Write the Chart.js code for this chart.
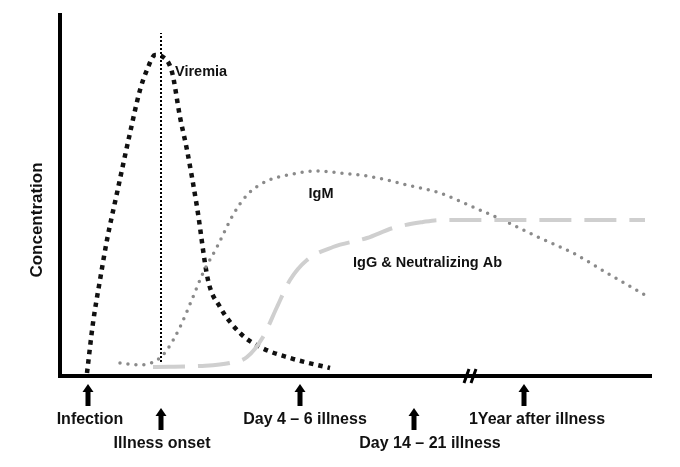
<!DOCTYPE html>
<html>
<head>
<meta charset="utf-8">
<script src="https://cdn.jsdelivr.net/npm/chart.js@4/dist/chart.umd.min.js"></script>
<style>
  html, body { margin: 0; padding: 0; background: #fff; }
  #wrap { width: 680px; height: 467px; position: relative; }
</style>
</head>
<body>
<div id="wrap"><canvas id="chart"></canvas></div>
<script>
// time axis runs 0..592 (arbitrary units), concentration 0..363
const viremiaX = [27, 33, 40, 47, 57, 70, 80, 87, 95, 103, 112, 120, 127, 137, 148, 160, 180, 200, 230, 270];
const viremiaY = [3, 53, 96, 136, 183, 243, 286, 306, 321, 319, 304, 259, 226, 169, 96, 69, 43, 29, 18, 8];

const igmX = [60, 80, 97, 107, 120, 133, 143, 157, 173, 187, 207, 233, 255, 280, 313, 347, 380, 413, 447, 480, 513, 547, 590];
const igmY = [13, 11, 16, 26, 49, 79, 103, 129, 161, 181, 195, 202, 205, 203, 199, 191, 183, 169, 154, 138, 123, 103, 78];

const iggX = [93, 140, 170, 187, 203, 217, 230, 247, 273, 307, 333, 363, 380, 585];
const iggY = [9, 10, 13, 19, 39, 69, 96, 116, 129, 138, 148, 154, 156, 156];

const onsetX = [101, 101];
const onsetY = [14, 343];

const eventNames = ['Infection', 'Illness onset', 'Day 4 \u2013 6 illness', 'Day 14 \u2013 21 illness', '1Year after illness'];
const eventX = [28, 101, 240, 354, 464];
const eventLabelX = [30, 102, 245, 370, 477];
const eventRow = [0, 1, 0, 1, 0];

const curveNames = ['Viremia', 'IgM', 'IgG & Neutralizing Ab'];
const curveLabelX = [115, 261, 293];
const curveLabelY = [304, 182, 113];
const curveAlign = ['left', 'center', 'left'];

const breakX = 410;

const toPts = (xs, ys) => xs.map((x, i) => ({x: x, y: ys[i]}));

const decor = {
    id: 'decor',
    afterDraw(chart) {
        const c = chart.ctx;
        const xs = chart.scales.x, ys = chart.scales.y;
        const a = chart.chartArea;
        c.save();
        // axes
        c.strokeStyle = '#000';
        c.lineWidth = 4;
        c.beginPath();
        c.moveTo(a.left, a.top);
        c.lineTo(a.left, a.bottom + 2);
        c.moveTo(a.left - 2, a.bottom);
        c.lineTo(a.right, a.bottom);
        c.stroke();

        // axis break
        const bx = xs.getPixelForValue(breakX);
        c.lineWidth = 3;
        c.beginPath();
        c.moveTo(bx - 6, a.bottom + 7);
        c.lineTo(bx - 1, a.bottom - 7);
        c.moveTo(bx + 1, a.bottom + 7);
        c.lineTo(bx + 6, a.bottom - 7);
        c.stroke();

        // y title
        c.fillStyle = '#111';
        c.font = 'bold 17px "Liberation Sans", Arial, sans-serif';
        c.textAlign = 'center';
        c.textBaseline = 'middle';
        c.translate(37, 220);
        c.rotate(-Math.PI / 2);
        c.fillText('Concentration', 0, 0);
        c.setTransform(1, 0, 0, 1, 0, 0);

        // event arrows + labels
        eventNames.forEach((name, i) => {
            const px = xs.getPixelForValue(eventX[i]);
            const top = a.bottom + 8 + eventRow[i] * 24;
            c.fillStyle = '#000';
            c.beginPath();
            c.moveTo(px, top);
            c.lineTo(px + 5.5, top + 8);
            c.lineTo(px + 2.5, top + 8);
            c.lineTo(px + 2.5, top + 22);
            c.lineTo(px - 2.5, top + 22);
            c.lineTo(px - 2.5, top + 8);
            c.lineTo(px - 5.5, top + 8);
            c.closePath();
            c.fill();
            c.fillStyle = '#111';
            c.font = 'bold 16px "Liberation Sans", Arial, sans-serif';
            c.textAlign = 'center';
            c.textBaseline = 'middle';
            c.fillText(name, xs.getPixelForValue(eventLabelX[i]), a.bottom + 44 + eventRow[i] * 24);
        });

        // curve labels
        c.font = 'bold 14.5px "Liberation Sans", Arial, sans-serif';
        c.textBaseline = 'middle';
        curveNames.forEach((name, i) => {
            c.textAlign = curveAlign[i];
            c.fillText(name, xs.getPixelForValue(curveLabelX[i]), ys.getPixelForValue(curveLabelY[i]));
        });
        c.restore();
    }
};

new Chart(document.getElementById('chart').getContext('2d'), {
    type: 'scatter',
    data: {
        datasets: [
            {
                label: 'IgG & Neutralizing Ab',
                data: toPts(iggX, iggY),
                showLine: true,
                borderColor: '#cfcfcf',
                borderWidth: 4,
                borderDash: [32, 13],
                cubicInterpolationMode: 'monotone',
                pointRadius: 0
            },
            {
                label: 'IgM',
                data: toPts(igmX, igmY),
                showLine: true,
                borderColor: '#8a8a8a',
                borderWidth: 3.5,
                borderCapStyle: 'round',
                borderDash: [0, 8],
                cubicInterpolationMode: 'monotone',
                pointRadius: 0
            },
            {
                label: 'onset',
                data: toPts(onsetX, onsetY),
                showLine: true,
                borderColor: '#000',
                borderWidth: 2,
                borderDash: [2, 2],
                pointRadius: 0
            },
            {
                label: 'Viremia',
                data: toPts(viremiaX, viremiaY),
                showLine: true,
                borderColor: '#111',
                borderWidth: 4.5,
                borderDash: [4.5, 5],
                cubicInterpolationMode: 'monotone',
                pointRadius: 0
            }
        ]
    },
    plugins: [decor],
    options: {
        responsive: true,
        maintainAspectRatio: false,
        animation: false,
        layout: {padding: {left: 60, right: 28, top: 13, bottom: 91}},
        scales: {
            x: {type: 'linear', min: 0, max: 592, display: false},
            y: {type: 'linear', min: 0, max: 363, display: false}
        },
        plugins: {
            legend: {display: false},
            tooltip: {enabled: false}
        }
    }
});
</script>
</body>
</html>
